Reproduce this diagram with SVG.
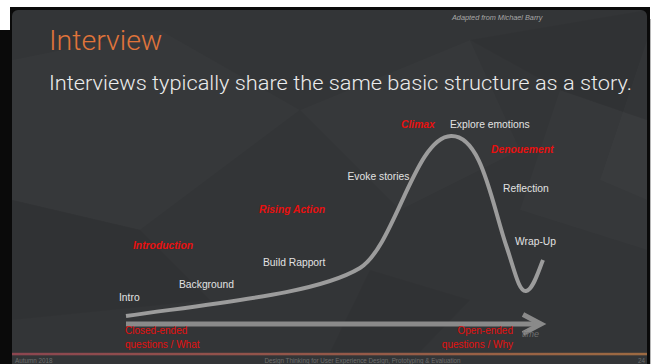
<svg xmlns="http://www.w3.org/2000/svg" width="654" height="364" viewBox="0 0 654 364">
  <defs>
    <linearGradient id="rule" x1="0" y1="0" x2="1" y2="0">
      <stop offset="0" stop-color="#8c4650"/>
      <stop offset="1" stop-color="#9c6a42"/>
    </linearGradient>
    <style>
      .step { font-family: "Liberation Sans", Arial, sans-serif; font-size: 10.3px; fill: #e2e2e2; }
      .phase { font-family: "Liberation Sans", Arial, sans-serif; font-size: 10.3px; font-weight: bold; font-style: italic; fill: #e8100f; }
      .qtype { font-family: "Liberation Sans", Arial, sans-serif; font-size: 10px; fill: #e3100f; }
      .foot { font-family: "Liberation Sans", Arial, sans-serif; font-size: 6.3px; fill: #6e6e6e; }
      .facet { fill: #ffffff; opacity: 0.014; }
      .shade { fill: #000000; opacity: 0.045; }
    </style>
  </defs>

  <!-- page and slide frame -->
  <rect x="0" y="0" width="654" height="364" fill="#ffffff"/>
  <rect x="10" y="7" width="640" height="357" fill="#0a0a0a"/>
  <rect x="0" y="30" width="12" height="334" fill="#0a0a0a"/>
  <line x1="650.5" y1="19" x2="650.5" y2="364" stroke="#b8b8b8" stroke-width="1"/>
  <rect x="12" y="10" width="635" height="360" rx="6" fill="#333537"/>

  <!-- faint faceted backdrop -->
  <g id="backdrop">
    <polygon class="facet" points="12,60 160,30 300,110 140,230 12,200"/>
    <polygon class="shade" points="12,200 140,230 210,300 12,320"/>
    <polygon class="facet" points="300,110 470,40 520,150 400,210"/>
    <polygon class="shade" points="470,40 647,10 647,120 560,90"/>
    <polygon class="facet" points="560,90 647,120 647,250 520,210"/>
    <polygon class="shade" points="370,270 470,300 420,352 330,352"/>
    <polygon class="facet" points="600,180 647,40 647,200"/>
  </g>

  <!-- header -->
  <g id="header">
    <text x="452" y="20" font-family="'Liberation Sans', Arial, sans-serif" font-size="7.3" font-style="italic" fill="#a8a8a8">Adapted from Michael Barry</text>
    <text x="49" y="50" font-family="Roboto, 'Liberation Sans', sans-serif" font-weight="300" font-size="28.5" fill="#e0743a">Interview</text>
    <text x="49" y="90" font-family="Roboto, 'Liberation Sans', sans-serif" font-weight="300" font-size="20.5" fill="#ececec" textLength="583" lengthAdjust="spacingAndGlyphs">Interviews typically share the same basic structure as a story.</text>
  </g>

  <!-- connectors: story arc and time axis -->
  <g id="connectors" fill="none" stroke-linecap="butt">
    <path id="story-arc" d="M126,316 C240,300 320,292 360,268 C395,246 415,137 451,136 C482,135 492,205 507,248 C515,272 519,292 526,291 C533,290 538,272 543,260" stroke="#9c9c9c" stroke-width="4"/>
    <line id="time-axis" x1="126" y1="324" x2="540" y2="324" stroke="#8a8a8a" stroke-width="5"/>
    <polyline points="523,314.5 541,324 523,333.5" stroke="#8a8a8a" stroke-width="5" stroke-linejoin="miter"/>
  </g>

  <!-- interview steps -->
  <g id="step-intro"><text class="step" x="119" y="301">Intro</text></g>
  <g id="step-background"><text class="step" x="179" y="288">Background</text></g>
  <g id="step-rapport"><text class="step" x="263" y="266">Build Rapport</text></g>
  <g id="step-stories"><text class="step" x="347.5" y="180">Evoke stories</text></g>
  <g id="step-emotions"><text class="step" x="450" y="128">Explore emotions</text></g>
  <g id="step-reflection"><text class="step" x="503" y="192">Reflection</text></g>
  <g id="step-wrapup"><text class="step" x="515" y="245">Wrap-Up</text></g>

  <!-- story phases -->
  <g id="phase-introduction"><text class="phase" x="133" y="249">Introduction</text></g>
  <g id="phase-rising"><text class="phase" x="259" y="213">Rising Action</text></g>
  <g id="phase-climax"><text class="phase" x="401" y="128">Climax</text></g>
  <g id="phase-denouement"><text class="phase" x="491" y="153">Denouement</text></g>

  <!-- question types along the axis -->
  <g id="closed-questions">
    <text class="qtype" x="125" y="334">Closed-ended</text>
    <text class="qtype" x="125" y="348">questions / What</text>
  </g>
  <g id="open-questions">
    <text class="qtype" x="513" y="334" text-anchor="end">Open-ended</text>
    <text class="qtype" x="513" y="348" text-anchor="end">questions / Why</text>
  </g>
  <g id="time-label"><text x="522" y="337" font-family="'Liberation Sans', Arial, sans-serif" font-size="9" font-style="italic" fill="#707070">time</text></g>

  <!-- footer -->
  <g id="footer">
    <rect x="12" y="352.8" width="635" height="2.5" fill="url(#rule)"/>
    <text class="foot" x="15" y="362.5">Autumn 2018</text>
    <text class="foot" x="362.5" y="362.5" text-anchor="middle">Design Thinking for User Experience Design, Prototyping &amp; Evaluation</text>
    <text class="foot" x="638" y="362.5">24</text>
  </g>
</svg>
